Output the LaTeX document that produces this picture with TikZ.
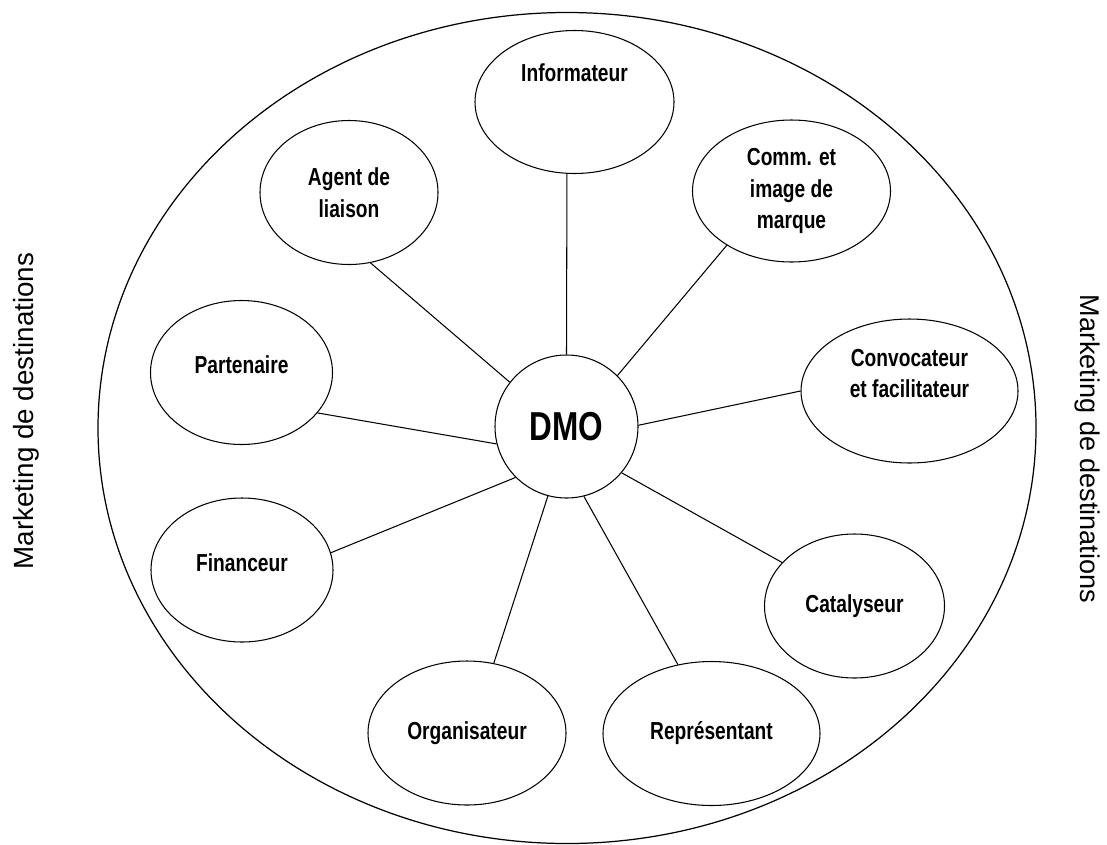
\documentclass[tikz,border=0pt]{standalone}
\usepackage{fontspec}
\setmainfont{Liberation Sans}
\newfontfamily\narrowsans[FakeStretch=0.78]{Liberation Sans}
\usepackage{tikz}
\usetikzlibrary{shapes.geometric}

\begin{document}
\begin{tikzpicture}[
  role/.style={draw, ellipse, line width=0.6pt, inner sep=0pt, align=center,
    minimum height=2.88cm, font=\narrowsans\bfseries\fontsize{14}{18}\selectfont},
  hub/.style={draw, circle, line width=0.6pt, inner sep=0pt, minimum size=2.86cm,
    font=\narrowsans\bfseries\fontsize{23}{27}\selectfont},
  side/.style={anchor=base, font=\fontsize{15.4}{18}\selectfont},
  link/.style={line width=0.6pt}
]
\useasboundingbox (0,0) rectangle (22.14,-16.88);

% Outer field
\draw[line width=0.7pt] (11.34,-8.56) ellipse [x radius=9.38cm, y radius=8.31cm];

% Central organisation
\node[hub] (DMO) at (11.33,-8.53) {DMO};

% Roles around the DMO
\node[role, minimum width=3.98cm, minimum height=2.86cm, text depth=1.16cm] (Info) at (11.49,-2.04) {Informateur};
\node[role, minimum width=3.56cm] (Agent) at (6.98,-3.85) {Agent de\\liaison};
\node[role, minimum width=3.96cm, minimum height=2.84cm] (Comm) at (15.83,-3.82) {Comm. et\\image de\\marque};
\node[role, minimum width=3.64cm, text depth=9pt] (Partner) at (4.83,-7.45) {Partenaire};
\node[role, minimum width=4.34cm, text depth=20pt] (Convoc) at (18.19,-7.82) {Convocateur\\et facilitateur};
\node[role, minimum width=3.64cm, text depth=9pt] (Funder) at (4.84,-11.40) {Financeur};
\node[role, minimum width=3.60cm] (Catal) at (17.09,-12.12) {Catalyseur};
\node[role, minimum width=3.96cm] (Organ) at (9.34,-14.66) {Organisateur};
\node[role, minimum width=4.34cm] (Repr) at (14.23,-14.67) {Représentant};

% Links
\draw[link] (DMO.90) -- (Info.264);
\draw[link] (DMO.142) -- (Agent.287);
\draw[link] (DMO.45) -- (Comm.220);
\draw[link] (DMO.194) -- (Partner.332);
\draw[link] (DMO.1) -- (Convoc.west);
\draw[link] (DMO.225) -- (Funder.11);
\draw[link] (DMO.320) -- (Catal.149);
\draw[link] (DMO.255) -- (Organ.69);
\draw[link] (DMO.284) -- (Repr.116);

% Side labels
\node[side, rotate=90, font=\fontsize{15.8}{18}\selectfont] (leftlabel) at (0.66,-8.22) {Marketing de destinations};
\node[side, rotate=-90] (rightlabel) at (21.60,-8.98) {Marketing de destinations};

\end{tikzpicture}
\end{document}
